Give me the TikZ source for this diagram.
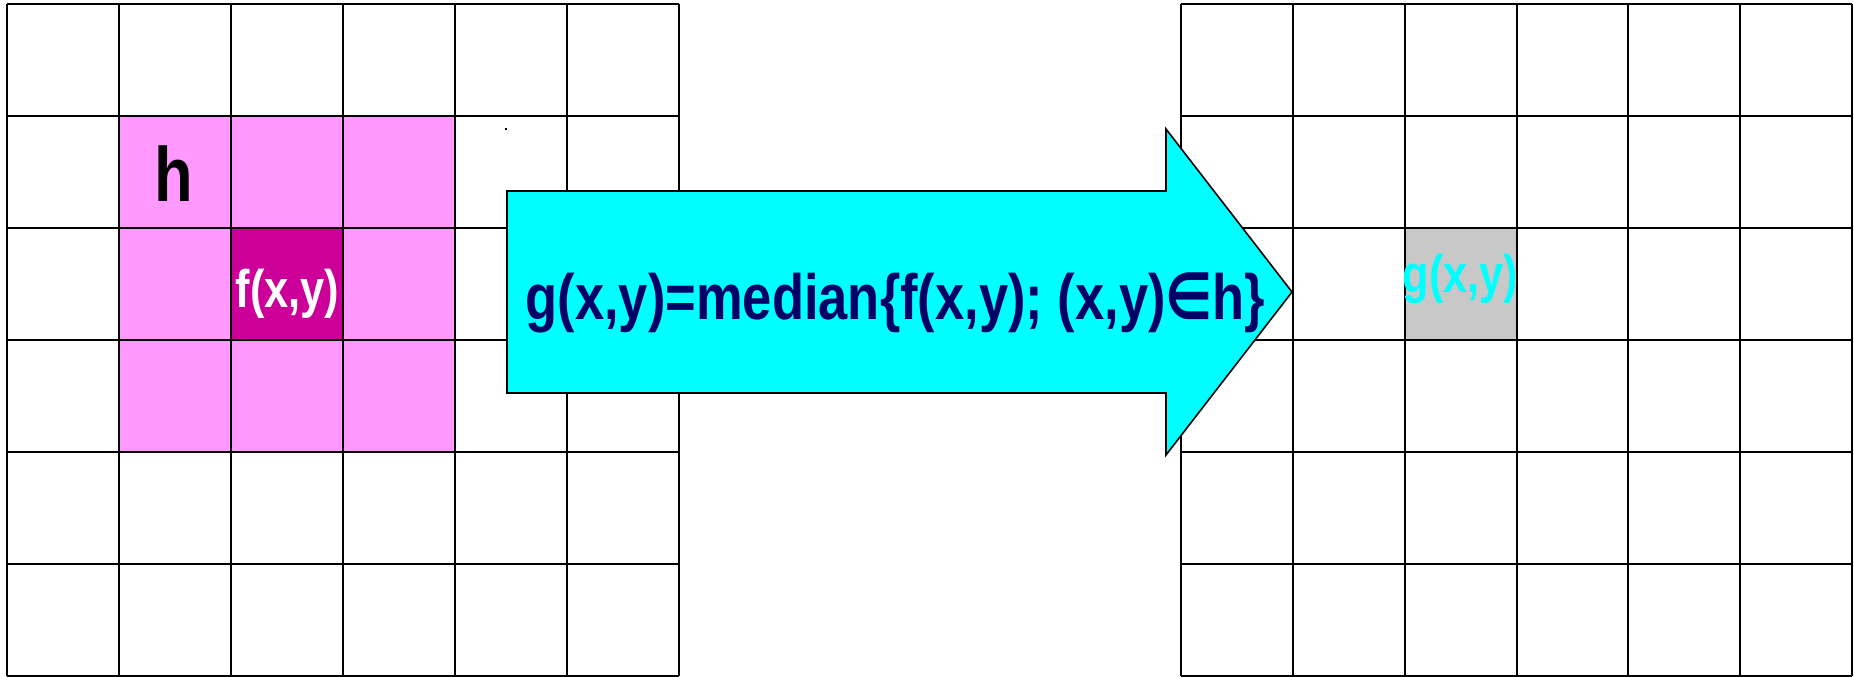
\documentclass[tikz,border=0pt]{standalone}
\usepackage{fontspec}
\newfontfamily\narrowsans{Liberation Sans}[FakeStretch=0.82]
\newfontfamily\symsans{DejaVu Sans}[FakeStretch=0.82]
\definecolor{nbpink}{HTML}{FF99FF}
\definecolor{centremag}{HTML}{CC0099}
\definecolor{arrowcyan}{HTML}{00FFFF}
\definecolor{outgray}{HTML}{C8C8C8}
\definecolor{formulanavy}{HTML}{000066}
\tikzset{
  gridline/.style={line width=1pt, black},
  arrowshape/.style={fill=arrowcyan, draw=black, line width=0.8pt, line join=miter},
  labeltext/.style={font=\narrowsans\bfseries, inner sep=0pt, anchor=base},
}
\begin{document}
\begin{tikzpicture}[x=0.5pt,y=-0.5pt]
  \useasboundingbox (0,0) rectangle (1854,676);
  % input image: 3x3 neighbourhood h and its centre pixel
  \fill[nbpink] (119,116) rectangle (455,452);
  \fill[centremag] (231,228) rectangle (343,340);
  % output image: the computed pixel
  \fill[outgray] (1404.7,228) rectangle (1516.5,340);
  % left pixel grid
  \foreach \i in {0,...,6} {
    \draw[gridline] ({7+112*\i},4) -- ({7+112*\i},676);
    \draw[gridline] (7,{4+112*\i}) -- (679,{4+112*\i});
  }
  % right pixel grid
  \foreach \i in {0,...,6} {
    \draw[gridline] ({1181+111.83*\i},4) -- ({1181+111.83*\i},676);
    \draw[gridline] (1181,{4+112*\i}) -- (1852,{4+112*\i});
  }
  % stray point
  \fill[black] (505,128) rectangle (507,130);
  % block arrow carrying the formula
  \draw[arrowshape] (507,191) -- (1166,191) -- (1166,129) -- (1292,292)
    -- (1166,455) -- (1166,393) -- (507,393) -- cycle;
  % labels
  \node[labeltext, font=\narrowsans\bfseries\fontsize{38.5}{40}\selectfont, text=black]
    (hlabel) at (174,201) {h};
  \node[labeltext, font=\narrowsans\bfseries\fontsize{26.5}{28}\selectfont, text=white]
    (flabel) at (287.5,307) {f(x,y)};
  \node[labeltext, font=\narrowsans\bfseries\fontsize{26.5}{28}\selectfont, text=arrowcyan]
    (glabel) at (1460.5,292) {g(x,y)};
  \node[labeltext, font=\narrowsans\bfseries\fontsize{32}{34}\selectfont, text=formulanavy]
    (formula) at (895.5,319) {g(x,y)=median\{f(x,y); (x,y){\symsans\bfseries ∈}h\}};
\end{tikzpicture}
\end{document}
